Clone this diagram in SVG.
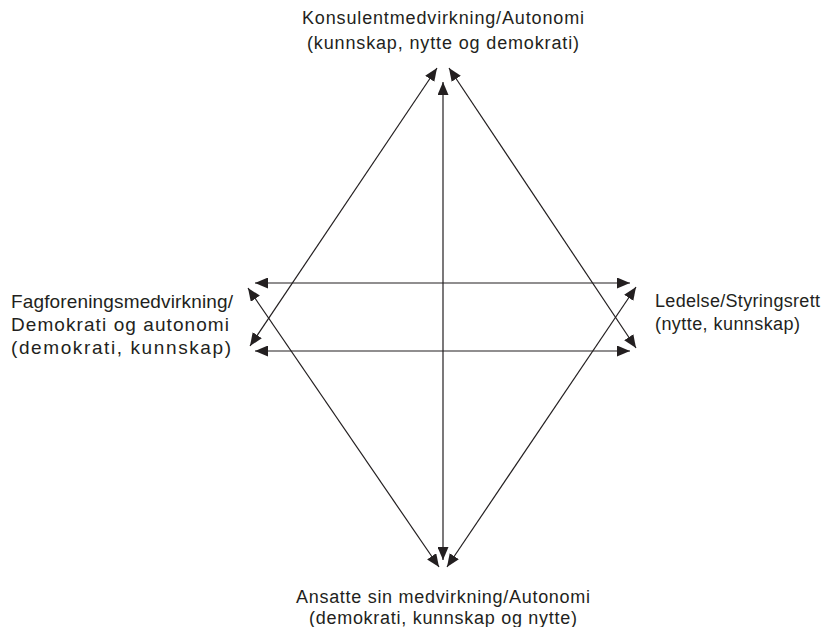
<svg xmlns="http://www.w3.org/2000/svg" width="822" height="627" viewBox="0 0 822 627">
<style>
.lbl{font-family:"Liberation Sans","Open Sans",Arial,sans-serif;font-size:18px;fill:#231f20}
.big{font-size:19px}
.c{stroke:#231f20;stroke-width:1.2;fill:none;marker-start:url(#ah);marker-end:url(#ah)}
</style>
<defs>
<marker id="ah" markerUnits="userSpaceOnUse" markerWidth="13" markerHeight="11" refX="13" refY="5.5" orient="auto-start-reverse">
<path d="M0,0 L13,5.5 L0,11 z" fill="#231f20"/>
</marker>
</defs>
<rect width="822" height="627" fill="#fff"/>
<g id="top">
<text class="lbl" x="443" y="24" text-anchor="middle" textLength="282">Konsulentmedvirkning/Autonomi</text>
<text class="lbl" x="443" y="49" text-anchor="middle" textLength="272">(kunnskap, nytte og demokrati)</text>
</g>
<g id="left">
<text class="lbl big" x="11" y="308" textLength="222">Fagforeningsmedvirkning/</text>
<text class="lbl big" x="11" y="331" textLength="218">Demokrati og autonomi</text>
<text class="lbl big" x="11" y="354" textLength="220">(demokrati, kunnskap)</text>
</g>
<g id="right">
<text class="lbl" x="655" y="307" textLength="165">Ledelse/Styringsrett</text>
<text class="lbl" x="655" y="330" textLength="145">(nytte, kunnskap)</text>
</g>
<g id="bottom">
<text class="lbl" x="443" y="603" text-anchor="middle" textLength="294">Ansatte sin medvirkning/Autonomi</text>
<text class="lbl" x="443" y="624" text-anchor="middle" textLength="268">(demokrati, kunnskap og nytte)</text>
</g>
<g id="connectors">
<line class="c" x1="443" y1="82" x2="443" y2="560"/>
<line class="c" x1="255" y1="283" x2="630" y2="283"/>
<line class="c" x1="255" y1="351" x2="630" y2="351"/>
<line class="c" x1="250" y1="346" x2="437" y2="68"/>
<line class="c" x1="449" y1="68" x2="636" y2="348"/>
<line class="c" x1="248" y1="288" x2="439" y2="567"/>
<line class="c" x1="636" y1="287" x2="447" y2="567"/>
</g>
</svg>
